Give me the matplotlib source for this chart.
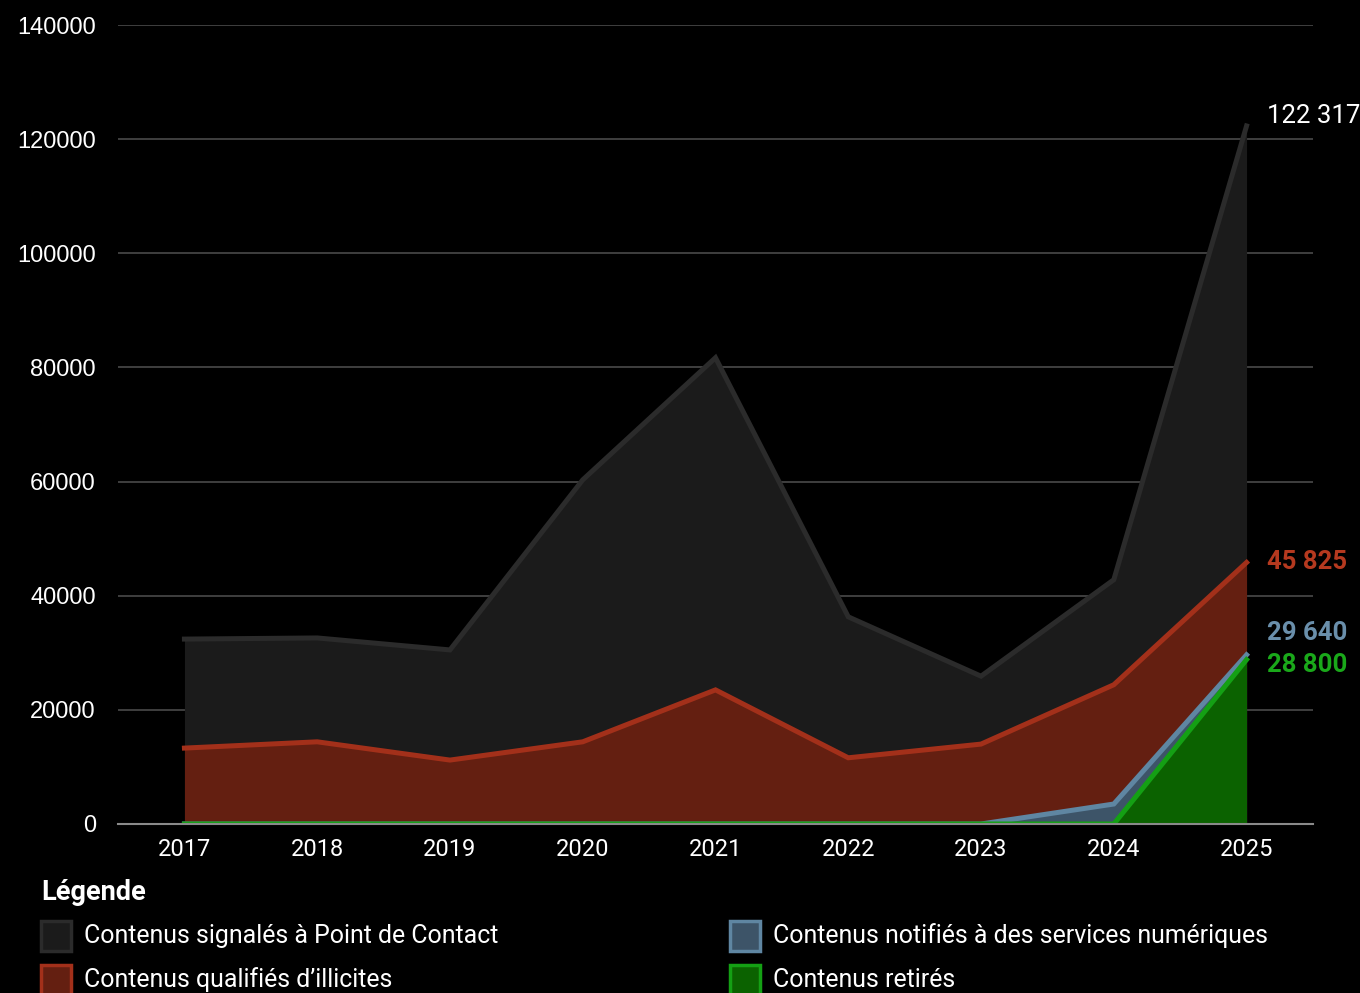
import matplotlib.pyplot as plt
from matplotlib.patches import Rectangle

years = [2017, 2018, 2019, 2020, 2021, 2022, 2023, 2024, 2025]
signales = [32400, 32600, 30500, 60300, 81700, 36300, 25900, 42800, 122317]
illicites = [13300, 14400, 11200, 14400, 23500, 11600, 14000, 24400, 45825]
notifies = [0, 0, 0, 0, 0, 0, 0, 3500, 29640]
retires = [0, 0, 0, 0, 0, 0, 0, 0, 28800]

labels = [
    "Contenus signalés à Point de Contact",
    "Contenus qualifiés d’illicites",
    "Contenus notifiés à des services numériques",
    "Contenus retirés",
]
fills = ["#1b1b1b", "#641f11", "#3d5468", "#0b6200"]
lines = ["#2b2b2b", "#a3301a", "#5f86a2", "#14a014"]
label_cols = ["#ffffff", "#b5391f", "#6a8fab", "#1aa81a"]
end_labels = ["122 317", "45 825", "29 640", "28 800"]

plt.rcParams["font.family"] = ["Roboto", "DejaVu Sans"]

fig = plt.figure(figsize=(13.6, 9.93), dpi=100, facecolor="black")
ax = fig.add_axes([0.0868, 0.1702, 0.8786, 0.8046], facecolor="black")

series = [signales, illicites, notifies, retires]
for vals, fc, lc in zip(series, fills, lines):
    ax.fill_between(years, 0, vals, color=fc, lw=0, zorder=2)
    ax.plot(years, vals, color=lc, lw=3.6, solid_joinstyle="miter", zorder=3)

ax.set_xlim(2016.5, 2025.5)
ax.set_ylim(0, 140000)
ax.set_yticks(range(0, 140001, 20000))
ax.set_xticks(years)
ax.grid(axis="y", color="#444444", lw=1.3, zorder=1)
for s in ["top", "right", "left"]:
    ax.spines[s].set_visible(False)
ax.spines["bottom"].set_color("#8a8a8a")
ax.spines["bottom"].set_linewidth(1.5)
ax.spines["bottom"].set_zorder(4)
ax.tick_params(axis="both", length=0, colors="white", labelsize=17)
ax.tick_params(axis="x", pad=10)
ax.tick_params(axis="y", pad=16)
for t in ax.get_yticklabels():
    t.set_fontfamily(["Liberation Sans", "DejaVu Sans"])

# décalages verticaux (pixels) pour éviter le chevauchement des étiquettes
shifts = [10, 0, 22, -5]
for i, (vals, col, txt) in enumerate(zip(series, label_cols, end_labels)):
    ax.annotate(txt, (years[-1], vals[-1]), xytext=(20, shifts[i]),
                textcoords="offset pixels", color=col, fontsize=18.5,
                va="center", ha="left",
                fontweight="normal" if i == 0 else "bold",
                annotation_clip=False)

fig.text(41 / 1360, 1 - 892 / 993, "Légende", color="white", fontsize=19.5,
         fontweight="bold", va="center", ha="left")
pos = [(41, 936), (41, 980), (730, 936), (730, 980)]
for (px, py), fc, lc, lab in zip(pos, fills, lines, labels):
    fig.patches.append(Rectangle((px / 1360, 1 - (py + 15) / 993), 30 / 1360, 30 / 993,
                                 transform=fig.transFigure, facecolor=fc,
                                 edgecolor=lc, lw=2.5))
    fig.text((px + 43) / 1360, 1 - py / 993, lab, color="white", fontsize=17.9,
             va="center", ha="left")

fig.savefig("out.png", dpi=100, facecolor="black")
